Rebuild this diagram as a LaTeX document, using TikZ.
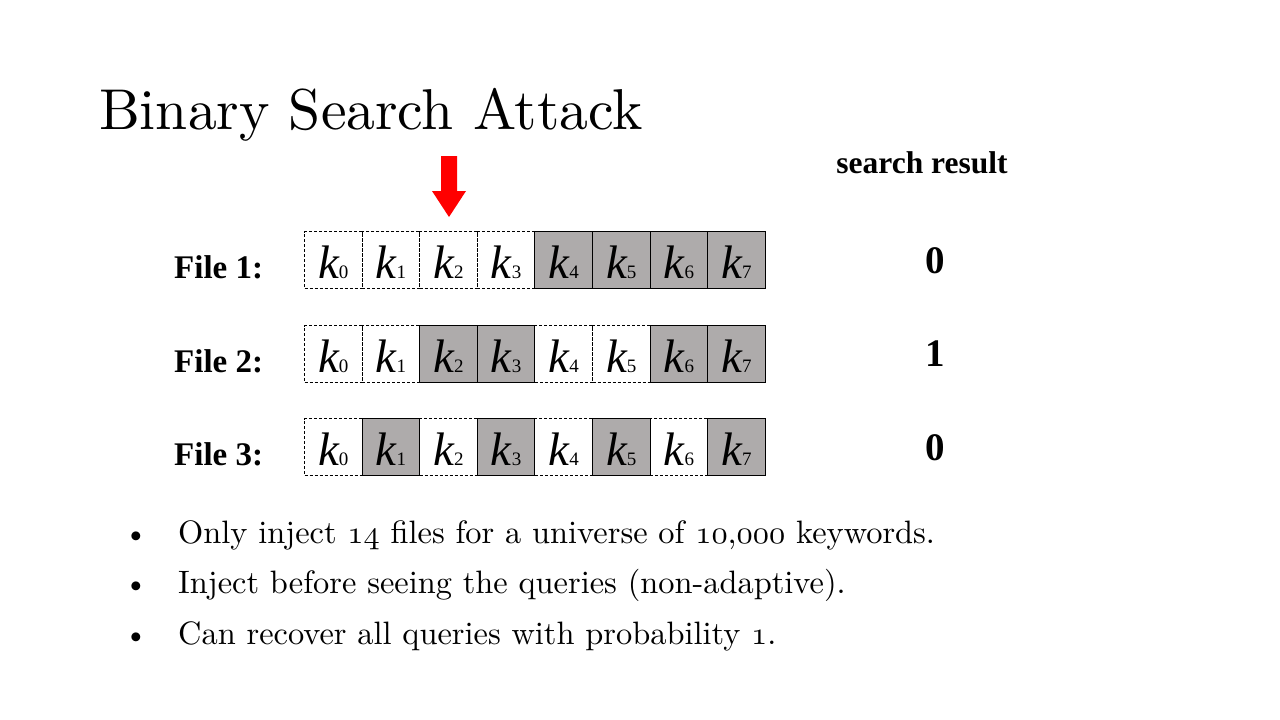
\documentclass[tikz,border=0pt]{standalone}
\usepackage{fontspec}
\newfontfamily\tnr{Liberation Serif}
\newfontfamily\lmten{lmroman10-regular}[Extension=.otf]
\font\osnfont=cmmi10 at 32.4pt
\newcommand{\osn}[1]{{\osnfont #1}}
\definecolor{cellgray}{HTML}{AEABAB}
\definecolor{arrowred}{HTML}{FF0000}
\tikzset{
  cellbase/.style={minimum width=57.6pt, minimum height=57pt, inner sep=0pt, line width=1pt, anchor=north west},
  emptycell/.style={cellbase, draw=black, dash pattern=on 3pt off 2pt},
  fullcell/.style={cellbase, draw=black, fill=cellgray},
  filelabel/.style={inner sep=0pt, anchor=base west, font=\tnr\bfseries\fontsize{33}{33}\selectfont},
  resultnum/.style={inner sep=0pt, anchor=base, font=\tnr\bfseries\fontsize{39}{39}\selectfont},
  bullettext/.style={inner sep=0pt, anchor=base west, font=\lmten\fontsize{32.4}{32.4}\selectfont},
  bulletdot/.style={inner sep=0pt, anchor=base, font=\lmten\fontsize{31}{31}\selectfont},
}
\newcommand{\kk}[1]{{\tnr\itshape\fontsize{47}{47}\selectfont k\upshape\fontsize{19}{19}\selectfont #1}}
\begin{document}
\begin{tikzpicture}[x=1pt,y=-1pt]
\useasboundingbox (0,0) rectangle (1280,720);
\fill[white] (0,0) rectangle (1280,720);
% title
\node[inner sep=0pt, anchor=base west, font=\lmten\fontsize{57.6}{57.6}\selectfont] (title) at (99,129) {Binary Search Attack};
% header
\node[inner sep=0pt, anchor=base, font=\tnr\bfseries\fontsize{31.5}{31.5}\selectfont] (hdr) at (922,173) {search result};
% arrow
\fill[arrowred] (441,156) -- (457,156) -- (457,191) -- (466,191) -- (449,217) -- (432,191) -- (441,191) -- cycle;
% rows
\foreach \r/\ytop/\pat in {1/231/{0,0,0,0,1,1,1,1}, 2/325/{0,0,1,1,0,0,1,1}, 3/418/{0,1,0,1,0,1,0,1}} {
  \foreach \v [count=\c from 0] in \pat {
    \ifnum\v=1
      \node[fullcell] (r\r c\c) at ({304+57.6*\c},\ytop) {};
    \else
      \node[emptycell] (r\r c\c) at ({304+57.6*\c},\ytop) {};
    \fi
    \node[inner sep=0pt, anchor=base] (t\r c\c) at ([yshift=-1pt]r\r c\c.center |- 0,{\ytop+46}) {\kk{\c}};
  }
}
% file labels
\node[filelabel] (f1) at (174,278) {File 1:};
\node[filelabel] (f2) at (174,372) {File 2:};
\node[filelabel] (f3) at (174,465) {File 3:};
% results
\node[resultnum] (n1) at (935,273) {0};
\node[resultnum] (n2) at (935,366) {1};
\node[resultnum] (n3) at (935,460) {0};
% bullets
\node[bulletdot] (b1) at (136,543) {\textbullet};
\node[bulletdot] (b2) at (136,593) {\textbullet};
\node[bulletdot] (b3) at (136,644) {\textbullet};
\node[bullettext] (l1) at (178,543) {Only inject \osn{14} files for a universe of \osn{10},\osn{000} keywords.};
\node[bullettext] (l2) at (178,593) {Inject before seeing the queries (non-adaptive).};
\node[bullettext] (l3) at (178,644) {Can recover all queries with probability \osn{1}.};
\end{tikzpicture}
\end{document}
